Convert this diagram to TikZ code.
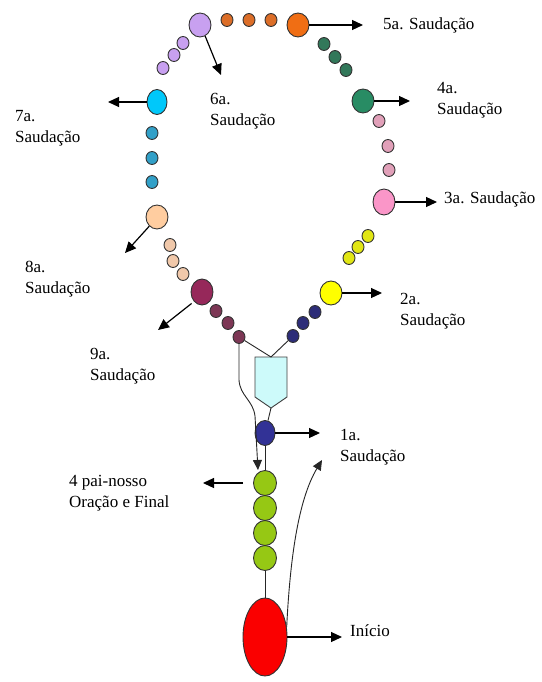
\documentclass[tikz,border=0pt]{standalone}
\usepackage{fontspec}
\setmainfont{Liberation Serif}
\usetikzlibrary{arrows.meta,shapes.geometric}
\definecolor{cpurple}{RGB}{200,160,240}
\definecolor{corange}{RGB}{240,110,20}
\definecolor{corangeS}{RGB}{220,110,40}
\definecolor{cgreen}{RGB}{40,140,100}
\definecolor{cgreenS}{RGB}{50,120,90}
\definecolor{cpink}{RGB}{250,150,200}
\definecolor{cpinkS}{RGB}{225,160,185}
\definecolor{cyellow}{RGB}{255,255,0}
\definecolor{cyellowS}{RGB}{225,230,20}
\definecolor{cnavy}{RGB}{50,50,150}
\definecolor{cnavyS}{RGB}{45,45,120}
\definecolor{ccyan}{RGB}{0,200,250}
\definecolor{ccyanS}{RGB}{50,160,200}
\definecolor{cpeach}{RGB}{255,205,160}
\definecolor{cpeachS}{RGB}{240,200,170}
\definecolor{cmaroon}{RGB}{150,40,90}
\definecolor{cmaroonS}{RGB}{125,55,85}
\definecolor{cleaf}{RGB}{150,200,20}
\definecolor{cred}{RGB}{250,0,0}
\definecolor{cpend}{RGB}{205,250,250}
\begin{document}
\begin{tikzpicture}[x=1pt,y=-1pt,
  bead/.style={ellipse,draw=black!80,line width=0.9pt,inner sep=0pt},
  big/.style={bead,minimum width=22pt,minimum height=24pt},
  small/.style={bead,minimum width=12pt,minimum height=13pt},
  leaf/.style={bead,fill=cleaf,minimum width=23pt,minimum height=25pt},
  arr/.style={line width=1.2pt,-{Triangle[length=11pt,width=10pt]}},
  cord/.style={line width=0.9pt,black!85},
  lbl/.style={font=\fontsize{17}{21}\selectfont,align=left,anchor=west,inner sep=0pt}]
\useasboundingbox (0,0) rectangle (541,682);
\fill[white] (0,0) rectangle (541,682);
% upper loop beads
\node[big,fill=cpurple] (b6) at (200,25) {};
\node[small,fill=cpurple] (p1) at (183,43) {};
\node[small,fill=cpurple] (p2) at (174,55) {};
\node[small,fill=cpurple] (p3) at (163,68) {};
\node[small,fill=corangeS] (o1) at (227,20) {};
\node[small,fill=corangeS] (o2) at (249,20) {};
\node[small,fill=corangeS] (o3) at (271,20) {};
\node[big,fill=corange] (b5) at (298,25) {};
\node[small,fill=cgreenS] (gr1) at (324,44) {};
\node[small,fill=cgreenS] (gr2) at (335,57) {};
\node[small,fill=cgreenS] (gr3) at (346,70) {};
\node[big,fill=cgreen] (b4) at (363,101) {};
\node[small,fill=cpinkS] (k1) at (379,121) {};
\node[small,fill=cpinkS] (k2) at (388,146) {};
\node[small,fill=cpinkS] (k3) at (389,170) {};
\node[big,fill=cpink,minimum height=26pt] (b3) at (384,202) {};
\node[small,fill=cyellowS] (y1) at (368,236) {};
\node[small,fill=cyellowS] (y2) at (358,247) {};
\node[small,fill=cyellowS] (y3) at (349,258) {};
\node[big,fill=cyellow] (b2) at (331,293) {};
\node[small,fill=cnavyS] (n1) at (315,312) {};
\node[small,fill=cnavyS] (n2) at (303,323) {};
\node[small,fill=cnavyS] (n3) at (293,336) {};
\node[big,fill=ccyan,minimum width=20pt,minimum height=25pt] (b7) at (157,102) {};
\node[small,fill=ccyanS] (c1) at (152,133) {};
\node[small,fill=ccyanS] (c2) at (152,158) {};
\node[small,fill=ccyanS] (c3) at (152,182) {};
\node[big,fill=cpeach] (b8) at (157,217) {};
\node[small,fill=cpeachS] (e1) at (170,245) {};
\node[small,fill=cpeachS] (e2) at (173,261) {};
\node[small,fill=cpeachS] (e3) at (183,274) {};
\node[big,fill=cmaroon,minimum height=26pt] (b9) at (202,292) {};
\node[small,fill=cmaroonS] (m1) at (216,311) {};
\node[small,fill=cmaroonS] (m2) at (228,323) {};
\node[small,fill=cmaroonS] (m3) at (239,337) {};
% pendant
\draw[line width=0.9pt,draw=black!75,fill=cpend] (255,357) -- (287,357) -- (287,397) -- (271,408) -- (255,397) -- cycle;
\coordinate (ptop) at (271,357);
\coordinate (pbot) at (271,408);
% lower beads
\node[bead,fill=cnavy,minimum width=20pt,minimum height=25pt] (b1) at (265,433) {};
\node[leaf] (g1) at (265,483) {};
\node[leaf] (g2) at (265,508) {};
\node[leaf] (g3) at (265,533) {};
\node[leaf] (g4) at (265,558) {};
\node[bead,fill=cred,minimum width=44pt,minimum height=78pt] (red) at (265,637) {};
% cords
\draw[cord] (m3) -- (ptop);
\draw[cord] (n3) -- (ptop);
\draw[cord] (pbot) -- (b1);
\draw[cord] (b1) -- (g1);
\draw[cord] (g4) -- (red);
\coordinate (tdown) at (258,470);
\draw[cord,-{Triangle[length=10pt,width=9pt]}] (m3.south) -- (239,380) .. controls (240,396) and (253,400) .. (255,416) -- (tdown);
\coordinate (tup) at (322,460);
\draw[cord,-{Triangle[length=10pt,width=9pt]}] (red.25) .. controls (290,560) and (298,500) .. (tup);
% arrows
\coordinate (t5) at (363,25);
\coordinate (t6) at (221,75);
\coordinate (t4) at (410,101);
\coordinate (t7) at (108,102);
\coordinate (t3) at (437,202);
\coordinate (t8) at (125,253);
\coordinate (t2) at (382,293);
\coordinate (t9) at (158,330);
\coordinate (t1) at (320,433);
\coordinate (tp) at (203,483);
\coordinate (ti) at (342,637);
\draw[arr] (b5.east) -- (t5);
\draw[arr] (b6.-65) -- (t6);
\draw[arr] (b4.east) -- (t4);
\draw[arr] (b7.west) -- (t7);
\draw[arr] (b3.east) -- (t3);
\draw[arr] (b8.-130) -- (t8);
\draw[arr] (b2.east) -- (t2);
\draw[arr,shorten <=3pt] (b9.-130) -- (t9);
\draw[arr] (b1.east) -- (t1);
\draw[arr,shorten <=10pt] (g1.west) -- (tp);
\draw[arr] (red.east) -- (ti);
% labels
\node[lbl] (l5) at (383,25) {5a. Saudação};
\node[lbl] (l6) at (210,111) {6a.\\Saudação};
\node[lbl] (l4) at (437,100) {4a.\\Saudação};
\node[lbl] (l7) at (15,128) {7a.\\Saudação};
\node[lbl] (l3) at (444,199) {3a. Saudação};
\node[lbl] (l2) at (400,311) {2a.\\Saudação};
\node[lbl] (l8) at (25,279) {8a.\\Saudação};
\node[lbl] (l9) at (90,366) {9a.\\Saudação};
\node[lbl] (l1) at (340,447) {1a.\\Saudação};
\node[lbl] (lp) at (69,493) {4 pai-nosso\\Oração e Final};
\node[lbl] (li) at (350,631) {Início};
\end{tikzpicture}
\end{document}
